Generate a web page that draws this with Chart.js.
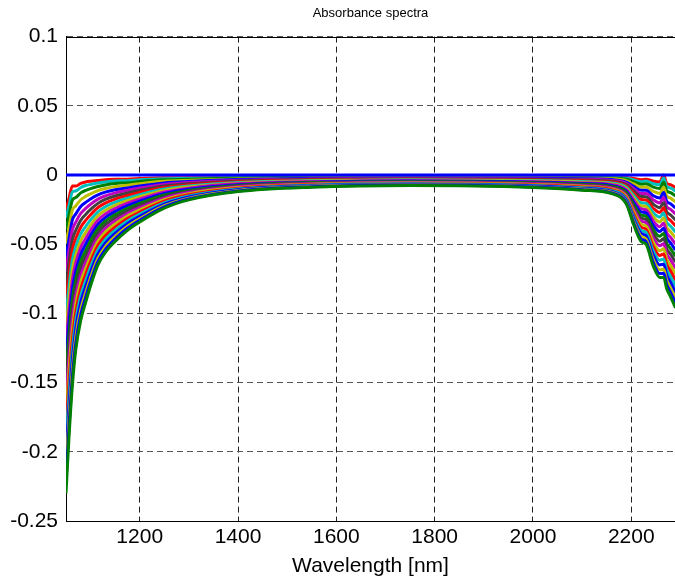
<!DOCTYPE html>
<html>
<head>
<meta charset="utf-8">
<script src="https://cdn.jsdelivr.net/npm/chart.js@4.4.1/dist/chart.umd.min.js"></script>
<style>
	html, body { margin: 0; padding: 0; background: #fff; overflow: hidden; }
</style>
</head>
<body>
<canvas id="chart" width="675" height="582"></canvas>
<script>
// wavelengths (nm) the spectra were sampled at
const wavelength = [1050, 1056, 1063, 1070, 1080, 1090, 1100, 1115, 1130, 1150, 1175, 1200, 1250, 1300, 1400, 1550, 1750, 2000, 2100, 2160, 2190, 2205, 2220, 2230, 2245, 2258, 2266, 2272, 2280, 2290];

// reference (blank) spectrum
const reference = [0, 0, 0, 0, 0, 0, 0, 0, 0, 0, 0, 0, 0, 0, 0, 0, 0, 0, 0, 0, 0, 0, 0, 0, 0, 0, 0, 0, 0, 0];

// sample spectra, top to bottom
const spectrum01 = [-0.025, -0.017, -0.008, -0.008, -0.006, -0.005, -0.0045, -0.004, -0.0035, -0.003, -0.003, -0.0025, -0.002, -0.002, -0.0015, -0.0012, -0.001, -0.001, -0.001, -0.0012, -0.0018, -0.0025, -0.0035, -0.003, -0.0045, -0.005, 0.0, -0.006, -0.007, -0.009];
const spectrum02 = [-0.0312, -0.0222, -0.0123, -0.0115, -0.009, -0.0076, -0.0068, -0.0058, -0.0051, -0.0044, -0.0041, -0.0034, -0.0027, -0.0025, -0.0018, -0.0014, -0.0012, -0.0012, -0.0013, -0.0016, -0.0024, -0.0035, -0.0048, -0.0044, -0.0063, -0.0071, -0.0022, -0.0083, -0.0094, -0.0116];
const spectrum03 = [-0.0394, -0.0291, -0.0181, -0.0163, -0.0129, -0.0111, -0.0098, -0.0083, -0.0072, -0.0062, -0.0056, -0.0047, -0.0035, -0.0031, -0.0022, -0.0017, -0.0015, -0.0016, -0.0017, -0.0021, -0.0031, -0.0048, -0.0066, -0.0063, -0.0088, -0.0098, -0.0052, -0.0113, -0.0127, -0.0151];
const spectrum04 = [-0.0496, -0.0378, -0.0253, -0.0222, -0.0179, -0.0154, -0.0136, -0.0113, -0.0098, -0.0084, -0.0074, -0.0063, -0.0046, -0.0039, -0.0028, -0.0021, -0.0018, -0.002, -0.0022, -0.0027, -0.0041, -0.0065, -0.0088, -0.0086, -0.0119, -0.0133, -0.0089, -0.0151, -0.0167, -0.0194];
const spectrum05 = [-0.0599, -0.0464, -0.0325, -0.0281, -0.0228, -0.0198, -0.0173, -0.0144, -0.0124, -0.0107, -0.0093, -0.0079, -0.0057, -0.0047, -0.0033, -0.0025, -0.0021, -0.0024, -0.0027, -0.0033, -0.0051, -0.0082, -0.0111, -0.011, -0.015, -0.0167, -0.0126, -0.0189, -0.0208, -0.0238];
const spectrum06 = [-0.0701, -0.0551, -0.0397, -0.034, -0.0278, -0.0241, -0.0211, -0.0174, -0.0151, -0.0129, -0.0111, -0.0094, -0.0068, -0.0055, -0.0038, -0.0029, -0.0025, -0.0028, -0.0032, -0.0039, -0.006, -0.0099, -0.0133, -0.0133, -0.018, -0.0202, -0.0163, -0.0227, -0.0248, -0.0281];
const spectrum07 = [-0.0804, -0.0637, -0.0469, -0.0399, -0.0327, -0.0285, -0.0249, -0.0205, -0.0177, -0.0152, -0.013, -0.011, -0.0079, -0.0063, -0.0043, -0.0033, -0.0028, -0.0032, -0.0037, -0.0045, -0.007, -0.0115, -0.0155, -0.0157, -0.0211, -0.0236, -0.02, -0.0265, -0.0289, -0.0325];
const spectrum08 = [-0.0906, -0.0724, -0.0541, -0.0458, -0.0377, -0.0328, -0.0287, -0.0235, -0.0203, -0.0174, -0.0148, -0.0126, -0.009, -0.0071, -0.0049, -0.0036, -0.0031, -0.0036, -0.0042, -0.0051, -0.0079, -0.0132, -0.0177, -0.018, -0.0242, -0.0271, -0.0237, -0.0303, -0.0329, -0.0368];
const spectrum09 = [-0.1009, -0.081, -0.0613, -0.0517, -0.0426, -0.0372, -0.0324, -0.0266, -0.0229, -0.0197, -0.0167, -0.0142, -0.0101, -0.0079, -0.0054, -0.004, -0.0034, -0.004, -0.0047, -0.0058, -0.0089, -0.0149, -0.02, -0.0204, -0.0273, -0.0305, -0.0274, -0.0341, -0.037, -0.0412];
const spectrum10 = [-0.1111, -0.0897, -0.0685, -0.0576, -0.0476, -0.0415, -0.0362, -0.0296, -0.0256, -0.0219, -0.0185, -0.0157, -0.0112, -0.0087, -0.0059, -0.0044, -0.0038, -0.0044, -0.0052, -0.0064, -0.0099, -0.0166, -0.0222, -0.0227, -0.0303, -0.034, -0.0311, -0.0379, -0.041, -0.0455];
const spectrum11 = [-0.1214, -0.0983, -0.0757, -0.0635, -0.0525, -0.0459, -0.04, -0.0327, -0.0282, -0.0242, -0.0204, -0.0173, -0.0123, -0.0095, -0.0064, -0.0048, -0.0041, -0.0048, -0.0057, -0.007, -0.0108, -0.0182, -0.0244, -0.0251, -0.0334, -0.0374, -0.0348, -0.0417, -0.0451, -0.0499];
const spectrum12 = [-0.1316, -0.107, -0.0829, -0.0694, -0.0575, -0.0502, -0.0438, -0.0357, -0.0308, -0.0264, -0.0222, -0.0189, -0.0134, -0.0103, -0.007, -0.0052, -0.0044, -0.0052, -0.0062, -0.0076, -0.0118, -0.0199, -0.0266, -0.0274, -0.0365, -0.0409, -0.0385, -0.0455, -0.0491, -0.0542];
const spectrum13 = [-0.1419, -0.1156, -0.0901, -0.0753, -0.0624, -0.0546, -0.0475, -0.0388, -0.0334, -0.0287, -0.0241, -0.0205, -0.0145, -0.0111, -0.0075, -0.0055, -0.0048, -0.0056, -0.0067, -0.0082, -0.0127, -0.0216, -0.0289, -0.0298, -0.0396, -0.0443, -0.0422, -0.0493, -0.0532, -0.0586];
const spectrum14 = [-0.1521, -0.1243, -0.0973, -0.0812, -0.0674, -0.0589, -0.0513, -0.0418, -0.0361, -0.0309, -0.0259, -0.022, -0.0156, -0.0119, -0.008, -0.0059, -0.0051, -0.006, -0.0072, -0.0088, -0.0137, -0.0233, -0.0311, -0.0321, -0.0426, -0.0478, -0.0459, -0.0531, -0.0572, -0.0629];
const spectrum15 = [-0.1624, -0.1329, -0.1045, -0.0871, -0.0723, -0.0633, -0.0551, -0.0449, -0.0387, -0.0332, -0.0278, -0.0236, -0.0167, -0.0127, -0.0085, -0.0063, -0.0054, -0.0064, -0.0077, -0.0094, -0.0147, -0.0249, -0.0333, -0.0345, -0.0457, -0.0512, -0.0496, -0.0569, -0.0613, -0.0673];
const spectrum16 = [-0.1726, -0.1416, -0.1117, -0.093, -0.0773, -0.0676, -0.0589, -0.0479, -0.0413, -0.0354, -0.0296, -0.0252, -0.0178, -0.0135, -0.0091, -0.0067, -0.0058, -0.0068, -0.0082, -0.0101, -0.0156, -0.0266, -0.0355, -0.0368, -0.0488, -0.0547, -0.0533, -0.0607, -0.0653, -0.0716];
const spectrum17 = [-0.1829, -0.1502, -0.1189, -0.0989, -0.0822, -0.072, -0.0626, -0.051, -0.0439, -0.0377, -0.0315, -0.0268, -0.0189, -0.0143, -0.0096, -0.0071, -0.0061, -0.0072, -0.0087, -0.0107, -0.0166, -0.0283, -0.0378, -0.0392, -0.0519, -0.0581, -0.057, -0.0645, -0.0694, -0.076];
const spectrum18 = [-0.1931, -0.1589, -0.1261, -0.1048, -0.0872, -0.0763, -0.0664, -0.054, -0.0466, -0.0399, -0.0333, -0.0283, -0.02, -0.0151, -0.0101, -0.0074, -0.0064, -0.0076, -0.0092, -0.0113, -0.0175, -0.03, -0.04, -0.0415, -0.0549, -0.0616, -0.0607, -0.0683, -0.0734, -0.0803];
const spectrum19 = [-0.2034, -0.1675, -0.1333, -0.1107, -0.0921, -0.0807, -0.0702, -0.0571, -0.0492, -0.0422, -0.0352, -0.0299, -0.0211, -0.0159, -0.0106, -0.0078, -0.0067, -0.008, -0.0097, -0.0119, -0.0185, -0.0316, -0.0422, -0.0439, -0.058, -0.065, -0.0644, -0.0721, -0.0775, -0.0847];
const spectrum20 = [-0.2136, -0.1762, -0.1405, -0.1166, -0.0971, -0.085, -0.074, -0.0601, -0.0518, -0.0444, -0.037, -0.0315, -0.0222, -0.0167, -0.0112, -0.0082, -0.0071, -0.0084, -0.0102, -0.0125, -0.0195, -0.0333, -0.0444, -0.0462, -0.0611, -0.0685, -0.0681, -0.0759, -0.0815, -0.089];
const spectrum21 = [-0.2218, -0.1831, -0.1462, -0.1213, -0.101, -0.0885, -0.077, -0.0626, -0.0539, -0.0462, -0.0385, -0.0327, -0.0231, -0.0174, -0.0116, -0.0085, -0.0073, -0.0087, -0.0106, -0.013, -0.0202, -0.0347, -0.0462, -0.0481, -0.0635, -0.0712, -0.071, -0.079, -0.0848, -0.0925];
const spectrum22 = [-0.23, -0.19, -0.152, -0.126, -0.105, -0.092, -0.08, -0.065, -0.056, -0.048, -0.04, -0.034, -0.024, -0.018, -0.012, -0.0088, -0.0076, -0.009, -0.011, -0.0135, -0.021, -0.036, -0.048, -0.05, -0.066, -0.074, -0.074, -0.082, -0.088, -0.096];

const spectra = [spectrum01, spectrum02, spectrum03, spectrum04, spectrum05, spectrum06, spectrum07, spectrum08, spectrum09, spectrum10, spectrum11,
	spectrum12, spectrum13, spectrum14, spectrum15, spectrum16, spectrum17, spectrum18, spectrum19, spectrum20, spectrum21, spectrum22];

const xTicks = [1200, 1400, 1600, 1800, 2000, 2200];
const xTickLabels = ['1200', '1400', '1600', '1800', '2000', '2200'];
const yTicks = [-0.25, -0.2, -0.15, -0.1, -0.05, 0, 0.05, 0.1];
const yTickLabels = ['-0.25', '-0.2', '-0.15', '-0.1', '-0.05', '0', '0.05', '0.1'];

// old matlab colour order
const C = {
	b: '#0000ff', g: '#008000', r: '#ff0000', c: '#00bfbf',
	m: '#bf00bf', y: '#bfbf00', k: '#404040',
};
const lineColors = ['r', 'c', 'g', 'y', 'b', 'm', 'k', 'r', 'c', 'y', 'm', 'b', 'g', 'k', 'm', 'y', 'r', 'c', 'b', 'y', 'b', 'g'];

const FONT = "'Liberation Sans', Arial, Helvetica, sans-serif";

function toPoints(values) {
	return values.map((v, i) => ({ x: wavelength[i], y: v }));
}

const datasets = [
	{ data: toPoints(reference), borderColor: C.b, borderWidth: 3 },
];
// lower spectra are pushed first so they get drawn over the upper ones
for (let i = spectra.length - 1; i >= 0; i--) {
	datasets.push({
		data: toPoints(spectra[i]),
		borderColor: C[lineColors[i]],
		borderWidth: 3,
		cubicInterpolationMode: 'monotone',
	});
}

const topFrame = {
	id: 'topFrame',
	beforeDatasetsDraw(chart) {
		const { ctx, chartArea } = chart;
		ctx.save();
		ctx.strokeStyle = '#000';
		ctx.lineWidth = 1;
		ctx.beginPath();
		ctx.moveTo(chartArea.left, Math.round(chartArea.top) + 0.5);
		ctx.lineTo(chartArea.right, Math.round(chartArea.top) + 0.5);
		ctx.stroke();
		ctx.restore();
	},
};

new Chart(document.getElementById('chart'), {
	type: 'line',
	data: { datasets },
	plugins: [topFrame],
	options: {
		responsive: false,
		animation: false,
		layout: { padding: 0 },
		elements: { point: { radius: 0 }, line: { fill: false } },
		plugins: {
			legend: { display: false },
			tooltip: { enabled: false },
			title: {
				display: true,
				text: 'Absorbance spectra',
				fullSize: false,
				color: '#000',
				font: { family: FONT, size: 13, weight: 'normal' },
				padding: { top: 6, bottom: 15 },
			},
		},
		scales: {
			x: {
				type: 'linear',
				min: 1050,
				max: 2289,
				afterFit(scale) { scale.height = 61; },
				afterBuildTicks(scale) { scale.ticks = xTicks.map((v) => ({ value: v })); },
				ticks: {
					color: '#000',
					padding: 4,
					maxRotation: 0,
					autoSkip: false,
					font: { family: FONT, size: 21 },
					callback: (v, i) => xTickLabels[i],
				},
				grid: { color: '#222', drawTicks: false },
				border: { display: true, color: '#000', width: 1, dash: [6, 4] },
				title: {
					display: true,
					text: 'Wavelength [nm]',
					color: '#000',
					font: { family: FONT, size: 21 },
					padding: { top: 0, bottom: 3 },
				},
			},
			y: {
				min: -0.25,
				max: 0.1,
				afterFit(scale) { scale.width = 66; },
				afterBuildTicks(scale) { scale.ticks = yTicks.map((v) => ({ value: v })); },
				ticks: {
					color: '#000',
					padding: 8,
					autoSkip: false,
					font: { family: FONT, size: 21 },
					callback: (v, i) => yTickLabels[i],
				},
				grid: { color: '#555', drawTicks: false },
				border: { display: true, color: '#000', width: 1, dash: [6, 4] },
			},
		},
	},
});
</script>
</body>
</html>
